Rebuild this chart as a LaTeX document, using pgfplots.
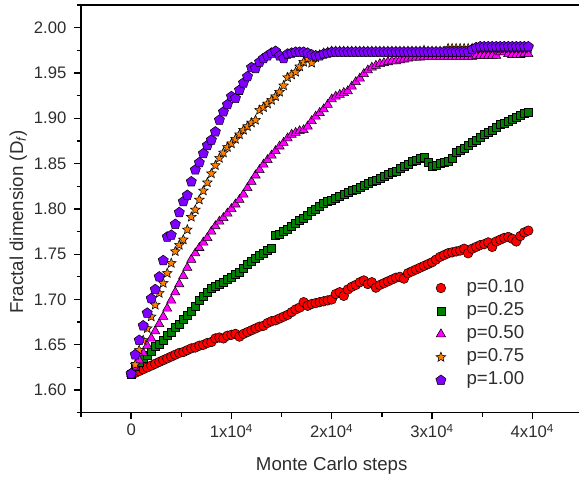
\documentclass[border=0pt]{standalone}
\usepackage{fontspec}
\setmainfont{Liberation Sans}
\usepackage{pgfplots}
\pgfplotsset{compat=1.18}
\usetikzlibrary{plotmarks}

\definecolor{txt}{RGB}{45,45,45}
\definecolor{pred}{RGB}{255,0,0}
\definecolor{pgreen}{RGB}{0,128,0}
\definecolor{pmag}{RGB}{255,0,255}
\definecolor{porange}{RGB}{255,128,0}
\definecolor{ppurple}{RGB}{128,0,255}

% filled five-pointed star
\pgfdeclareplotmark{fstar}{%
  \pgfpathmoveto{\pgfpointpolar{90}{\pgfplotmarksize}}%
  \pgfpathlineto{\pgfpointpolar{126}{0.45\pgfplotmarksize}}%
  \pgfpathlineto{\pgfpointpolar{162}{\pgfplotmarksize}}%
  \pgfpathlineto{\pgfpointpolar{198}{0.45\pgfplotmarksize}}%
  \pgfpathlineto{\pgfpointpolar{234}{\pgfplotmarksize}}%
  \pgfpathlineto{\pgfpointpolar{270}{0.45\pgfplotmarksize}}%
  \pgfpathlineto{\pgfpointpolar{306}{\pgfplotmarksize}}%
  \pgfpathlineto{\pgfpointpolar{342}{0.45\pgfplotmarksize}}%
  \pgfpathlineto{\pgfpointpolar{18}{\pgfplotmarksize}}%
  \pgfpathlineto{\pgfpointpolar{54}{0.45\pgfplotmarksize}}%
  \pgfpathclose\pgfusepathqfillstroke}

\pgfplotsset{
  ser/.style={only marks, mark options={draw=black, line width=0.45pt},
    legend image code/.code={\path (-5pt,0pt) (5pt,0pt);
      \draw[##1] plot coordinates {(0pt,0pt)};}},
}

\begin{document}
\begin{tikzpicture}
\begin{axis}[
  at={(0,0)}, anchor=south west,
  scale only axis, width=374.6pt, height=305.8pt,
  xmin=-5000, xmax=44800, ymin=1.575, ymax=2.025,
  axis line style={line width=1pt, black},
  tick align=outside, xtick pos=bottom, ytick pos=left,
  major tick length=5pt, minor tick length=3pt,
  every tick/.style={black, line width=1pt},
  scaled x ticks=false,
  xtick={0,10000,20000,30000,40000},
  xticklabels={0, 1x10\textsuperscript{4}, 2x10\textsuperscript{4}, 3x10\textsuperscript{4}, 4x10\textsuperscript{4}},
  minor xtick={-5000,5000,15000,25000,35000},
  ytick={1.60,1.65,1.70,1.75,1.80,1.85,1.90,1.95,2.00},
  minor ytick={1.575,1.625,1.675,1.725,1.775,1.825,1.875,1.925,1.975,2.025},
  yticklabel style={xshift=-2.5pt, /pgf/number format/.cd, fixed, fixed zerofill, precision=2, assume math mode=true},
  ticklabel style={font=\fontsize{12.5}{14}\selectfont, text=txt},
  xlabel={Monte Carlo steps},
  ylabel={Fractal dimension (D\textsubscript{\textit{f}})},
  label style={font=\fontsize{14}{16}\selectfont, text=txt},
  xlabel style={at={(axis description cs:0.502,-0.1406)}, anchor=base},
  ylabel style={at={(axis description cs:-0.1161,0.4684)}, anchor=base},
  legend style={draw=none, fill=none, at={(axis cs:29770,1.7286)}, anchor=north west,
    font=\fontsize{14}{16}\selectfont, text=txt, row sep=0pt,
    nodes={inner sep=2pt, text height=10pt, text depth=3.3pt},
    /tikz/every odd column/.append style={column sep=12pt}},
  legend cell align=left,
]
% p = 0.10
\addplot[ser, mark=*, mark size=3.6pt, mark options={fill=pred}] coordinates {
(0,1.618) (400,1.619) (800,1.621) (1200,1.623) (1600,1.625) (2000,1.627) (2400,1.629) (2800,1.631) (3200,1.633) (3600,1.635)
(4000,1.637) (4400,1.639) (4800,1.641) (5200,1.642) (5600,1.644) (6000,1.646) (6400,1.647) (6800,1.649) (7200,1.650) (7600,1.652)
(8000,1.653) (8400,1.657) (8800,1.658) (9200,1.657) (9600,1.660) (10000,1.661) (10400,1.662) (10800,1.659) (11200,1.662) (11600,1.664)
(12000,1.666) (12400,1.668) (12800,1.670) (13200,1.671) (13600,1.674) (14000,1.676) (14400,1.677) (14800,1.679) (15200,1.681) (15600,1.683)
(16000,1.686) (16400,1.689) (16800,1.691) (17200,1.697) (17600,1.693) (18000,1.695) (18400,1.696) (18800,1.697) (19200,1.698) (19600,1.699)
(20000,1.700) (20400,1.706) (20800,1.708) (21200,1.704) (21600,1.711) (22000,1.714) (22400,1.716) (22800,1.719) (23200,1.721) (23600,1.717)
(24000,1.719) (24400,1.713) (24800,1.716) (25200,1.718) (25600,1.720) (26000,1.722) (26400,1.724) (26800,1.725) (27200,1.723) (27600,1.729)
(28000,1.731) (28400,1.733) (28800,1.735) (29200,1.737) (29600,1.739) (30000,1.741) (30400,1.744) (30800,1.747) (31200,1.749) (31600,1.751)
(32000,1.752) (32400,1.753) (32800,1.754) (33200,1.756) (33600,1.751) (34000,1.756) (34400,1.758) (34800,1.760) (35200,1.761) (35600,1.763)
(36000,1.758) (36400,1.764) (36800,1.766) (37200,1.768) (37600,1.769) (38000,1.767) (38400,1.764) (38800,1.770) (39200,1.774) (39600,1.776)
};
% p = 0.25
\addplot[ser, mark=square*, mark size=3.0pt, mark options={fill=pgreen}] coordinates {
(0,1.618) (400,1.626) (800,1.631) (1200,1.635) (1600,1.638) (2000,1.643) (2400,1.648) (2800,1.651) (3200,1.655) (3600,1.660)
(4000,1.664) (4400,1.669) (4800,1.673) (5200,1.678) (5600,1.683) (6000,1.687) (6400,1.692) (6800,1.699) (7200,1.703) (7600,1.708)
(8000,1.712) (8400,1.715) (8800,1.717) (9200,1.719) (9600,1.722) (10000,1.725) (10400,1.728) (10800,1.730) (11200,1.734) (11600,1.739)
(12000,1.742) (12400,1.746) (12800,1.749) (13200,1.751) (13600,1.754) (14000,1.756) (14400,1.771) (14800,1.772) (15200,1.775) (15600,1.778)
(16000,1.781) (16400,1.784) (16800,1.787) (17200,1.790) (17600,1.793) (18000,1.797) (18400,1.800) (18800,1.803) (19200,1.806) (19600,1.808)
(20000,1.810) (20400,1.812) (20800,1.814) (21200,1.816) (21600,1.818) (22000,1.820) (22400,1.822) (22800,1.824) (23200,1.826) (23600,1.828)
(24000,1.830) (24400,1.832) (24800,1.834) (25200,1.836) (25600,1.838) (26000,1.840) (26400,1.842) (26800,1.845) (27200,1.847) (27600,1.849)
(28000,1.852) (28400,1.854) (28800,1.856) (29200,1.857) (29600,1.851) (30000,1.847) (30400,1.848) (30800,1.850) (31200,1.851) (31600,1.853)
(32000,1.856) (32400,1.862) (32800,1.865) (33200,1.867) (33600,1.870) (34000,1.873) (34400,1.876) (34800,1.879) (35200,1.882) (35600,1.885)
(36000,1.887) (36400,1.890) (36800,1.893) (37200,1.895) (37600,1.897) (38000,1.899) (38400,1.901) (38800,1.903) (39200,1.906) (39600,1.907)
};
% p = 0.50
\addplot[ser, mark=triangle*, mark size=4.0pt, mark options={fill=pmag}] coordinates {
(0,1.618) (400,1.626) (800,1.633) (1200,1.641) (1600,1.649) (2000,1.657) (2400,1.665) (2800,1.673) (3200,1.681) (3600,1.690)
(4000,1.699) (4400,1.708) (4800,1.717) (5200,1.726) (5600,1.735) (6000,1.744) (6400,1.751) (6800,1.757) (7200,1.763) (7600,1.768)
(8000,1.775) (8400,1.781) (8800,1.786) (9200,1.790) (9600,1.795) (10000,1.800) (10400,1.805) (10800,1.810) (11200,1.816) (11600,1.823)
(12000,1.830) (12400,1.837) (12800,1.843) (13200,1.849) (13600,1.854) (14000,1.859) (14400,1.864) (14800,1.869) (15200,1.873) (15600,1.878)
(16000,1.882) (16400,1.884) (16800,1.886) (17200,1.887) (17600,1.891) (18000,1.897) (18400,1.902) (18800,1.906) (19200,1.910) (19600,1.915)
(20000,1.921) (20400,1.924) (20800,1.926) (21200,1.928) (21600,1.930) (22000,1.935) (22400,1.940) (22800,1.944) (23200,1.949) (23600,1.953)
(24000,1.956) (24400,1.958) (24800,1.960) (25200,1.961) (25600,1.962) (26000,1.963) (26400,1.963) (26800,1.964) (27200,1.965) (27600,1.966)
(28000,1.967) (28400,1.967) (28800,1.967) (29200,1.968) (29600,1.968) (30000,1.968) (30400,1.968) (30800,1.968) (31200,1.968) (31600,1.968)
(32000,1.968) (32400,1.968) (32800,1.968) (33200,1.968) (33600,1.968) (34000,1.968) (34400,1.969) (34800,1.969) (35200,1.969) (35600,1.969)
(36000,1.969) (36400,1.969) (36800,1.973) (37200,1.973) (37600,1.971) (38000,1.970) (38400,1.970) (38800,1.970) (39200,1.971) (39600,1.971)
};
% p = 0.75
\addplot[ser, mark=fstar, mark size=3.8pt, mark options={fill=porange}] coordinates {
(0,1.618) (400,1.628) (800,1.644) (1200,1.655) (1600,1.668) (2000,1.681) (2400,1.694) (2800,1.707) (3200,1.718) (3600,1.729)
(4000,1.740) (4400,1.753) (4800,1.760) (5200,1.766) (5600,1.777) (6000,1.791) (6400,1.799) (6800,1.810) (7200,1.820) (7600,1.829)
(8000,1.839) (8400,1.848) (8800,1.856) (9200,1.862) (9600,1.868) (10000,1.872) (10400,1.877) (10800,1.882) (11200,1.887) (11600,1.891)
(12000,1.895) (12400,1.898) (12800,1.909) (13200,1.912) (13600,1.916) (14000,1.920) (14400,1.924) (14800,1.929) (15200,1.936) (15600,1.945)
(16000,1.948) (16400,1.951) (16800,1.957) (17200,1.962) (17600,1.966) (18000,1.961) (18400,1.967) (18800,1.970) (19200,1.972) (19600,1.973)
(20000,1.974) (20400,1.974) (20800,1.974) (21200,1.974) (21600,1.974) (22000,1.974) (22400,1.974) (22800,1.974) (23200,1.974) (23600,1.974)
(24000,1.974) (24400,1.974) (24800,1.974) (25200,1.974) (25600,1.974) (26000,1.974) (26400,1.974) (26800,1.974) (27200,1.974) (27600,1.974)
(28000,1.974) (28400,1.974) (28800,1.974) (29200,1.975) (29600,1.974) (30000,1.974) (30400,1.974) (30800,1.974) (31200,1.974) (31600,1.977)
(32000,1.977) (32400,1.977) (32800,1.977) (33200,1.977) (33600,1.977) (34000,1.977) (34400,1.977) (34800,1.977) (35200,1.977) (35600,1.977)
(36000,1.977) (36400,1.977) (36800,1.977) (37200,1.977) (37600,1.977) (38000,1.977) (38400,1.977) (38800,1.977) (39200,1.977) (39600,1.977)
};
% p = 1.00
\addplot[ser, mark=pentagon*, mark size=4.0pt, mark options={fill=ppurple}] coordinates {
(0,1.618) (400,1.639) (800,1.655) (1200,1.671) (1600,1.685) (2000,1.701) (2400,1.711) (2800,1.725) (3200,1.743) (3600,1.769)
(4000,1.771) (4400,1.783) (4800,1.796) (5200,1.808) (5600,1.815) (6000,1.830) (6400,1.843) (6800,1.851) (7200,1.861) (7600,1.870)
(8000,1.876) (8400,1.885) (8800,1.898) (9200,1.907) (9600,1.915) (10000,1.924) (10400,1.922) (10800,1.931) (11200,1.939) (11600,1.946)
(12000,1.956) (12400,1.955) (12800,1.962) (13200,1.966) (13600,1.969) (14000,1.972) (14400,1.974) (14800,1.969) (15200,1.966) (15600,1.971)
(16000,1.972) (16400,1.973) (16800,1.973) (17200,1.973) (17600,1.972) (18000,1.970) (18400,1.969) (18800,1.969) (19200,1.971) (19600,1.972)
(20000,1.973) (20400,1.973) (20800,1.973) (21200,1.973) (21600,1.973) (22000,1.973) (22400,1.973) (22800,1.973) (23200,1.973) (23600,1.973)
(24000,1.973) (24400,1.973) (24800,1.973) (25200,1.973) (25600,1.973) (26000,1.973) (26400,1.973) (26800,1.973) (27200,1.973) (27600,1.973)
(28000,1.973) (28400,1.973) (28800,1.973) (29200,1.973) (29600,1.973) (30000,1.973) (30400,1.973) (30800,1.973) (31200,1.973) (31600,1.973)
(32000,1.973) (32400,1.973) (32800,1.973) (33200,1.973) (33600,1.973) (34000,1.976) (34400,1.978) (34800,1.979) (35200,1.979) (35600,1.979)
(36000,1.979) (36400,1.979) (36800,1.979) (37200,1.979) (37600,1.979) (38000,1.979) (38400,1.979) (38800,1.979) (39200,1.979) (39600,1.979)
};
\legend{p=0.10, p=0.25, p=0.50, p=0.75, p=1.00}
\end{axis}
\pgfresetboundingbox
\path (-60.75pt,-49pt) rectangle (373.5pt,309.55pt);
\end{tikzpicture}
\end{document}
